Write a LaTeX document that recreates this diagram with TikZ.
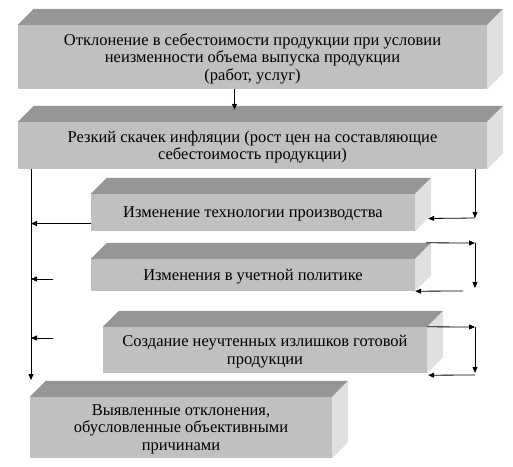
\documentclass[tikz,border=0pt]{standalone}
\usepackage{fontspec}
\setmainfont{Liberation Serif}
\usetikzlibrary{positioning,calc,arrows.meta}
\definecolor{frontgray}{HTML}{C0C0C0}
\definecolor{topgray}{HTML}{969696}
\definecolor{sidegray}{HTML}{E0E0E0}

\begin{document}
\begin{tikzpicture}[
    x=1pt, y=-1pt,
    every node/.style={font=\fontsize{16.5}{17.5}\selectfont},
    widebox/.style={
        rectangle,
        fill=frontgray,
        minimum width=469pt,
        inner sep=0pt,
        align=center
    },
    box/.style={
        rectangle,
        fill=frontgray,
        minimum width=324pt,
        inner sep=0pt,
        align=center
    },
    drop/.style={text depth=#1},
    arrow/.style={-{Triangle[length=6pt,width=5pt]}, line width=0.8pt}
]
\useasboundingbox (0,0) rectangle (513,466);

% Front faces
\node[widebox, minimum height=64pt, drop=-10pt] (deviation)  at (252.5, 57)
    {Отклонение в себестоимости продукции при условии\\
     неизменности объема выпуска продукции\\(работ, услуг)};
\node[widebox, minimum height=47pt, drop=-4pt] (inflation)  at (252.5, 145.5)
    {Резкий скачек инфляции (рост цен на составляющие\\
     себестоимость продукции)};
\node[box, minimum height=37pt, drop=-0.4pt]     (technology) at (253, 212.5)
    {Изменение технологии производства};
\node[box, minimum height=32pt, drop=-0.4pt]     (policy)     at (253, 275)
    {Изменения в учетной политике};
\node[box, minimum height=46pt, drop=-0.4pt]     (surplus)    at (265, 350)
    {Создание неучтенных излишков готовой\\продукции};
\node[box, minimum width=302pt, minimum height=61pt, drop=-10pt] (result) at (181, 427.5)
    {Выявленные отклонения,\\обусловленные объективными\\причинами};

% Top and side faces
\foreach \n in {deviation,inflation,technology,policy,surplus,result}{
    \fill[topgray] (\n.north west) -- ++(16,-16)
        -- ($(\n.north east)+(16,-16)$) -- (\n.north east) -- cycle;
    \fill[sidegray] (\n.north east) -- ++(16,-16)
        -- ($(\n.south east)+(16,-16)$) -- (\n.south east) -- cycle;
}

% Free ends of the connectors
\coordinate (leftend) at (31, 380);
\coordinate (rightbus) at (475, 0);
\coordinate (tech-corner) at (475, 218);
\coordinate (policy-corner) at (475, 243);
\coordinate (policy-end) at (475, 288);
\coordinate (policy-back) at (463, 291);
\coordinate (surplus-corner) at (475, 327);
\coordinate (surplus-end) at (475, 373);
\coordinate (policy-left) at (53, 279);
\coordinate (surplus-left) at (53, 338);

% Arrows
\draw[arrow] ([xshift=-18pt]deviation.south) -- ([xshift=-18pt,yshift=12pt]inflation.north);

\draw[arrow] (inflation.south -| leftend) -- (leftend);
\draw[arrow] ([yshift=-11pt]technology.west) -- ([yshift=-11pt]technology.west -| leftend);
\draw[arrow] (policy-left) -- (policy-left -| leftend);
\draw[arrow] (surplus-left) -- (surplus-left -| leftend);

\draw[arrow] (inflation.south -| rightbus) -- (tech-corner);
\draw[arrow] (tech-corner) -- ([xshift=13pt,yshift=-6pt]technology.east);

\draw[arrow] ([xshift=11pt,yshift=16pt]policy.north east) -- (policy-corner);
\draw[arrow] (policy-corner) -- (policy-end);
\draw[arrow] (policy-back) -- (policy.south east);

\draw[arrow] (surplus.north east) -- (surplus-corner);
\draw[arrow] (surplus-corner) -- (surplus-end);
\draw[arrow] ([yshift=-2pt]surplus-end) -- ([xshift=1pt,yshift=-2pt]surplus.south east);

\end{tikzpicture}
\end{document}
